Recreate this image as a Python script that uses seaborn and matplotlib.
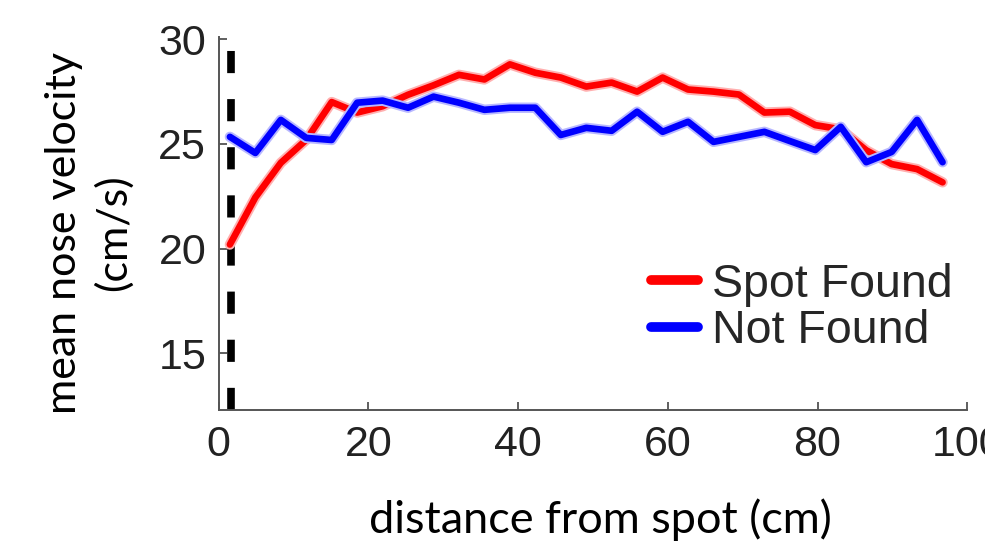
import numpy as np
import pandas as pd
import matplotlib
matplotlib.use("Agg")
import matplotlib.pyplot as plt
import matplotlib.patheffects as pe
import seaborn as sns

# distance bins (cm)
distance = [1.5 + 3.4 * i for i in range(29)]

spot_found = [20.2, 22.45, 24.1, 25.2, 27.0, 26.5, 26.8, 27.35, 27.8, 28.3,
              28.08, 28.8, 28.4, 28.17, 27.74, 27.93, 27.5, 28.17, 27.6, 27.5,
              27.36, 26.5, 26.54, 25.9, 25.7, 24.7, 24.04, 23.8, 23.17]
not_found = [25.34, 24.57, 26.15, 25.29, 25.19, 26.97, 27.07, 26.73, 27.26, 26.97,
             26.63, 26.73, 26.73, 25.43, 25.77, 25.63, 26.54, 25.58, 26.06, 25.10,
             25.34, 25.58, 25.14, 24.71, 25.82, 24.13, 24.62, 26.15, 24.13]

series_names = ["Spot Found", "Not Found"]
spot_x = 1.6
x_ticks = [0, 20, 40, 60, 80, 100]
y_ticks = [15, 20, 25, 30]

df = pd.DataFrame({
    "distance": distance * 2,
    "velocity": spot_found + not_found,
    "group": [series_names[0]] * len(distance) + [series_names[1]] * len(distance),
})

sns.set_style("ticks")
plt.rcParams["font.family"] = ["Liberation Sans", "DejaVu Sans"]

fig = plt.figure(figsize=(9.85, 5.46), dpi=100)
ax = fig.add_axes([0.222, 0.249, 0.760, 0.683])

palette = {"Spot Found": "#ff0000", "Not Found": "#0000ff"}
sns.lineplot(data=df, x="distance", y="velocity", hue="group", palette=palette,
             linewidth=4.8, ax=ax, legend=True)

halo = {"Spot Found": "#ffb0b0", "Not Found": "#b8b8ff"}
for line, name in zip(ax.lines[:2], series_names):
    line.set_path_effects([pe.Stroke(linewidth=7.5, foreground=halo[name]), pe.Normal()])

ax.axvline(spot_x, color="black", linewidth=5.5, dashes=(2.9, 3.4), zorder=1)

ax.set_xlim(0, 100)
ax.set_ylim(12.3, 30.1)
ax.set_xticks(x_ticks)
ax.set_yticks(y_ticks)
ax.tick_params(axis="both", direction="in", length=6, width=1.2, color="#444444",
               labelsize=31, pad=9, labelcolor="#222222")
ax.tick_params(axis="x", pad=11)
sns.despine(ax=ax)
for side in ["left", "bottom"]:
    ax.spines[side].set_color("#555555")
    ax.spines[side].set_linewidth(1.4)

ax.set_xlabel("distance from spot (cm)", fontsize=32.5, family=["Lato", "DejaVu Sans"],
              labelpad=24, color="black")
ax.xaxis.label.set_x(0.51)
ax.set_ylabel("mean nose velocity\n(cm/s)", fontsize=31, family=["Lato", "DejaVu Sans"],
              labelpad=18, linespacing=1.35, color="black")
ax.yaxis.label.set_y(0.476)

handles, labels = ax.get_legend_handles_labels()
leg = ax.legend(handles, labels, loc="upper left", bbox_to_anchor=(0.578, 0.395),
                frameon=False, fontsize=33.5, handlelength=1.0, handletextpad=0.3,
                borderaxespad=0, borderpad=0, labelspacing=0.05)
for h in leg.get_lines():
    h.set_linewidth(7)
    h.set_path_effects([])

fig.savefig("out.png", dpi=100)
